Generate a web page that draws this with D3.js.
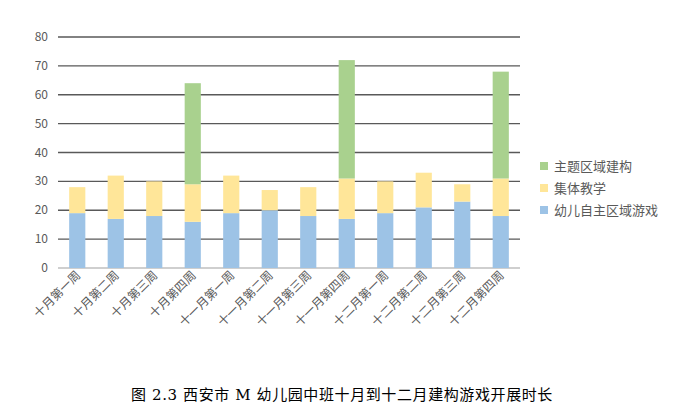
<!DOCTYPE html>
<html>
<head>
<meta charset="UTF-8">
<script src="https://d3js.org/d3.v7.min.js"></script>
<style>body{margin:0;background:#fff;font-family:"Noto Sans CJK SC",sans-serif;}</style>
</head>
<body>
<svg id="chart"></svg>
<script>
const weeks = ["十月第一周","十月第二周","十月第三周","十月第四周","十一月第一周","十一月第二周","十一月第三周","十一月第四周","十二月第一周","十二月第二周","十二月第三周","十二月第四周"];
const freePlay = [19,17,18,16,19,20,18,17,19,21,23,18];
const groupTeach = [9,15,12,13,13,7,10,14,11,12,6,13];
const themeBuild = [0,0,0,35,0,0,0,41,0,0,0,37];
const seriesNames = ["幼儿自主区域游戏","集体教学","主题区域建构"];
const colors = ["#9dc3e6","#ffe699","#a9d18e"];
const yTicks = [0,10,20,30,40,50,60,70,80];

const svg = d3.select("#chart").attr("width",684).attr("height",415);
const x = d3.scaleBand().domain(weeks).range([58,520]).paddingInner(0.58).paddingOuter(0.29);
const y = d3.scaleLinear().domain([0,80]).range([268,37]);

const rows = weeks.map((w,i) => ({week:w, a:freePlay[i], b:groupTeach[i], c:themeBuild[i]}));
const stacked = d3.stack().keys(["a","b","c"])(rows);

svg.append("g").selectAll("line").data(yTicks).join("line")
  .attr("x1",58).attr("x2",520).attr("y1",d=>y(d)).attr("y2",d=>y(d))
  .attr("stroke",d=>d===0?"#bfbfbf":"#595959").attr("stroke-width",1.3);
svg.append("g").selectAll("text").data(yTicks).join("text")
  .attr("x",48).attr("y",d=>y(d)+4).attr("text-anchor","end")
  .attr("font-size",12).attr("fill","#595959").text(d=>d);

stacked.forEach((s,k) => {
  svg.append("g").selectAll("rect").data(s).join("rect")
    .attr("x",d=>x(d.data.week)).attr("width",x.bandwidth())
    .attr("y",d=>y(d[1])).attr("height",d=>y(d[0])-y(d[1]))
    .attr("fill",colors[k]);
});

svg.append("g").selectAll("text").data(weeks).join("text")
  .attr("transform",d=>`translate(${x(d)+x.bandwidth()/2+4},${276}) rotate(-45)`)
  .attr("text-anchor","end").attr("font-size",12).attr("fill","#595959").text(d=>d);

const leg = svg.append("g");
[2,1,0].forEach((k,i) => {
  leg.append("rect").attr("x",540).attr("y",162+i*22).attr("width",8).attr("height",8).attr("fill",colors[k]);
  leg.append("text").attr("x",554).attr("y",171+i*22).attr("font-size",13).attr("fill","#595959").text(seriesNames[k]);
});

svg.append("text").attr("x",342).attr("y",400).attr("text-anchor","middle")
  .attr("font-family","'DejaVu Serif','Noto Sans CJK SC',serif")
  .attr("font-size",15).attr("letter-spacing",0.6).attr("fill","#000")
  .text("图 2.3 西安市 M 幼儿园中班十月到十二月建构游戏开展时长");
</script>
</body>
</html>
